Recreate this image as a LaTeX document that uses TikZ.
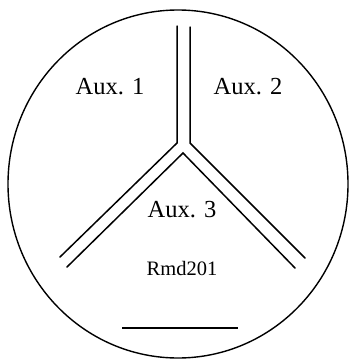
\documentclass[tikz,border=0pt]{standalone}
\usepackage{fontspec}
\setmainfont{Liberation Serif}
\begin{document}
\begin{tikzpicture}[x=1pt,y=-1pt,
  wall/.style={line width=1.5pt,line cap=round},
  lbl/.style={inner sep=0pt,font=\fontsize{24.5}{24.5}\selectfont},
  small/.style={inner sep=0pt,font=\fontsize{20.5}{20.5}\selectfont}]
\useasboundingbox (0,0) rectangle (350,359);
\draw[line width=1.4pt] (178,184) ellipse [x radius=170, y radius=174];
% vertical pair
\coordinate (vlt) at (177,26);
\coordinate (vlb) at (177,143);
\coordinate (vrt) at (190,27);
\coordinate (vrb) at (190,143);
\coordinate (apex) at (183,153);
\coordinate (lo) at (60,257);
\coordinate (li) at (67,267);
\coordinate (ro) at (305,258);
\coordinate (ri) at (295,268);
\draw[wall] (vlt) -- (vlb) -- (lo);
\draw[wall] (vrt) -- (vrb) -- (ro);
\draw[wall] (li) -- (apex) -- (ri);
\coordinate (bl) at (122,328);
\coordinate (br) at (238,328);
\draw[line width=1.4pt] (bl) -- (br);
\node[lbl] (a1) at (110,87) {Aux. 1};
\node[lbl] (a2) at (248,87) {Aux. 2};
\node[lbl] (a3) at (182,210) {Aux. 3};
\node[small] (r) at (182,268) {Rmd201};
\end{tikzpicture}
\end{document}
